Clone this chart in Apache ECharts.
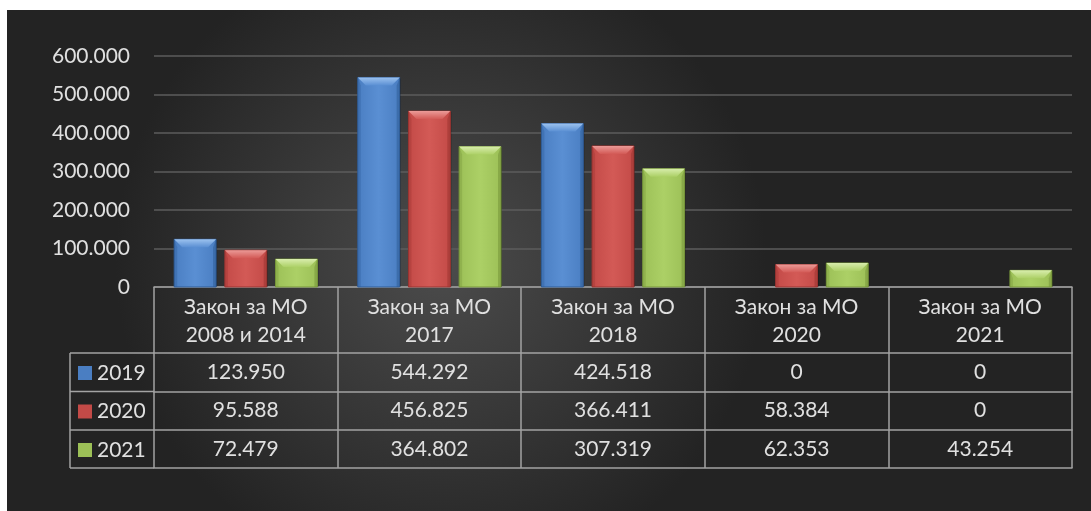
<!DOCTYPE html>
<html>
<head>
<meta charset="utf-8">
<script src="https://cdn.jsdelivr.net/npm/echarts@6/dist/echarts.min.js"></script>
<style>
  html, body { margin: 0; padding: 0; background: #fff; }
  #main { position: absolute; left: 7px; top: 10px; width: 1084px; height: 501px; }
</style>
</head>
<body>
<div id="main"></div>
<script>
  var categories = ['Закон за МО\n2008 и 2014', 'Закон за МО\n2017', 'Закон за МО\n2018', 'Закон за МО\n2020', 'Закон за МО\n2021'];
  var seriesNames = ['2019', '2020', '2021'];
  var v2019 = [123950, 544292, 424518, 0, 0];
  var v2020 = [95588, 456825, 366411, 58384, 0];
  var v2021 = [72479, 364802, 307319, 62353, 43254];
  var yTicks = [0, 100000, 200000, 300000, 400000, 500000, 600000];

  var font = 'Lato, "Noto Sans", sans-serif';
  var textColor = '#e0e0e0';
  var lineColor = '#a3a3a3';
  // dark edge, body, light centre, bevel highlight
  var colors = [
    ['#2f5d98', '#4a7ec2', '#5a8fd3', '#9cc2ef'],
    ['#9a3532', '#c34a47', '#d35a56', '#eb9a97'],
    ['#76963a', '#9cc057', '#acd066', '#d8edac']
  ];

  function fmt(v) {
    return String(v).replace(/\B(?=(\d{3})+(?!\d))/g, '.');
  }

  var allValues = [v2019, v2020, v2021];
  var rowTop = [66, 104.5, 143];
  var tableBottom = 181;

  var myChart = echarts.init(document.getElementById('main'));

  var xAxes = [{
    type: 'category',
    data: categories,
    position: 'bottom',
    axisLine: {show: true, lineStyle: {color: lineColor, width: 1.5}},
    axisTick: {show: true, length: tableBottom, lineStyle: {color: lineColor, width: 1.5}},
    axisLabel: {color: textColor, fontFamily: font, fontSize: 21, lineHeight: 28, margin: 6, interval: 0}
  }];
  allValues.forEach(function (vals, i) {
    xAxes.push({
      type: 'category',
      data: vals.map(fmt),
      position: 'bottom',
      offset: rowTop[i],
      axisLine: {show: true, lineStyle: {color: lineColor, width: 1.5}},
      axisTick: {show: false},
      axisLabel: {color: textColor, fontFamily: font, fontSize: 21, lineHeight: 20, margin: 9, interval: 0}
    });
  });
  xAxes.push({
    type: 'category',
    data: categories,
    position: 'bottom',
    offset: tableBottom,
    axisLine: {show: true, lineStyle: {color: lineColor, width: 1.5}},
    axisTick: {show: false},
    axisLabel: {show: false}
  });

  // bevelled bar, placed like a grouped bar through the category scale
  function makeRender(si) {
    var c = colors[si];
    return function (params, api) {
      var val = api.value(1);
      var p0 = api.coord([api.value(0), 0]);
      var p1 = api.coord([api.value(0), val]);
      var band = api.size([1, 0])[0];
      var w = band * 0.78 / 3.42;
      var x = p0[0] - band * 0.39 + si * w * 1.21;
      var y = p1[1];
      var h = p0[1] - p1[1];
      if (h < 1) return null;
      var b = Math.min(8, h / 2);
      return {
        type: 'group',
        children: [
          {type: 'rect', shape: {x: x + 1, y: y + 1, width: w, height: h - 1},
            style: {fill: 'rgba(0,0,0,0.35)'}},
          {type: 'rect', shape: {x: x, y: y, width: w, height: h},
            style: {
              fill: new echarts.graphic.LinearGradient(0, 0, 1, 0, [
                {offset: 0, color: c[1]},
                {offset: 0.5, color: c[2]},
                {offset: 1, color: c[1]}
              ]),
              stroke: c[0], lineWidth: 1
            }},
          {type: 'polygon', shape: {points: [[x, y], [x + w, y], [x + w - b, y + b], [x + b, y + b]]},
            style: {fill: new echarts.graphic.LinearGradient(0, 0, 0, 1, [
              {offset: 0, color: c[3]},
              {offset: 1, color: c[2]}
            ])}},
          {type: 'polygon', shape: {points: [[x + w, y], [x + w, y + h], [x + w - 3, y + h], [x + w - 3, y + b]]},
            style: {fill: c[0], opacity: 0.55}},
          {type: 'polygon', shape: {points: [[x, y], [x, y + h], [x + 3, y + h], [x + 3, y + b]]},
            style: {fill: c[0], opacity: 0.35}}
        ]
      };
    };
  }

  var series = seriesNames.map(function (name, i) {
    return {
      name: name,
      type: 'custom',
      xAxisIndex: 0,
      renderItem: makeRender(i),
      encode: {x: 0, y: 1},
      data: allValues[i].map(function (v, k) { return [k, v]; }),
      itemStyle: {color: colors[i][1]}
    };
  });

  var legends = seriesNames.map(function (name, i) {
    return {
      data: [name],
      left: 71,
      top: 277 + rowTop[i] + 9.5,
      padding: 0,
      itemWidth: 14,
      itemHeight: 14,
      itemGap: 5,
      icon: 'rect',
      selectedMode: false,
      textStyle: {color: textColor, fontFamily: font, fontSize: 21, lineHeight: 20}
    };
  });

  var gl = {stroke: lineColor, lineWidth: 1.5};
  myChart.setOption({
    backgroundColor: new echarts.graphic.RadialGradient(0.4, 0.5, 0.65, [
      {offset: 0, color: '#4c4c4c'},
      {offset: 1, color: '#232323'}
    ]),
    animation: false,
    legend: legends,
    grid: {left: 147, right: 19, top: 46, bottom: 224, containLabel: false},
    xAxis: xAxes,
    yAxis: {
      type: 'value',
      min: yTicks[0],
      max: yTicks[yTicks.length - 1],
      interval: yTicks[1] - yTicks[0],
      axisLine: {show: false},
      axisTick: {show: false},
      splitLine: {lineStyle: {color: '#5c5c5c', width: 1.5}},
      axisLabel: {color: textColor, fontFamily: font, fontSize: 21, margin: 24, formatter: fmt}
    },
    series: series,
    graphic: [
      {type: 'line', shape: {x1: 63, y1: 277 + rowTop[0], x2: 147, y2: 277 + rowTop[0]}, style: gl},
      {type: 'line', shape: {x1: 63, y1: 277 + rowTop[1], x2: 147, y2: 277 + rowTop[1]}, style: gl},
      {type: 'line', shape: {x1: 63, y1: 277 + rowTop[2], x2: 147, y2: 277 + rowTop[2]}, style: gl},
      {type: 'line', shape: {x1: 63, y1: 277 + tableBottom, x2: 147, y2: 277 + tableBottom}, style: gl},
      {type: 'line', shape: {x1: 63, y1: 277 + rowTop[0], x2: 63, y2: 277 + tableBottom}, style: gl}
    ]
  });
</script>
</body>
</html>
